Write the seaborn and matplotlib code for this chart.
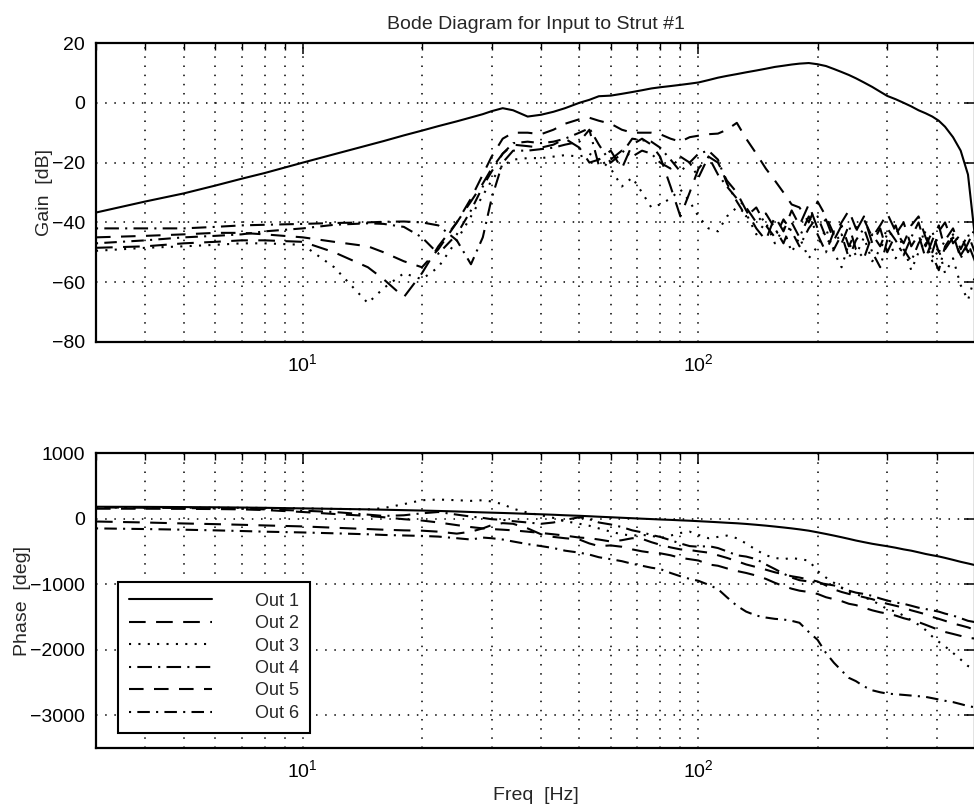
# Bode diagram for input to strut #1 - gain and phase of six outputs

import numpy as np
import pandas as pd
import matplotlib
matplotlib.use('Agg')
import matplotlib.pyplot as plt
from matplotlib.lines import Line2D
from matplotlib.ticker import FixedLocator, NullFormatter
import seaborn as sns

sns.set_style('white')
plt.rcParams['font.family'] = ['Liberation Sans', 'DejaVu Sans']
plt.rcParams['mathtext.fontset'] = 'custom'
plt.rcParams['mathtext.rm'] = 'Liberation Sans'
plt.rcParams['mathtext.it'] = 'Liberation Sans'

# frequency grid [Hz]
freq_hz = [3, 4, 5, 6, 7, 8, 10, 12, 14.6, 16, 18, 20, 22, 24.5, 26.6, 28.5, 30, 32, 34, 37,
           40, 43, 46, 50, 53, 56, 60, 64, 68, 72, 76, 80, 85, 90, 95, 100, 106, 112, 118, 125,
           132, 140, 148, 156, 164, 172, 180, 190, 200, 210, 220, 230, 240, 250, 262, 275, 288, 300, 315, 330,
           345, 360, 375, 390, 405, 420, 440, 460, 480, 500]

# gain [dB]
gain_out1 = [-36.7, -33, -30.3, -27.7, -25.4, -23.5, -20, -17.2, -14.2, -12.8, -10.9, -9.3, -7.8, -6.2, -4.9, -3.8, -2.8, -1.8, -2.5, -4.6,
             -4, -3, -1.8, 0, 1, 2.2, 2.4, 3, 3.6, 4.2, 4.8, 5.2, 5.6, 6, 6.4, 6.8, 7.6, 8.4, 9, 9.6,
             10.2, 10.8, 11.4, 12, 12.4, 12.8, 13.1, 13.3, 12.9, 12.3, 11.3, 10.3, 9.3, 8.2, 6.8, 5.3, 3.7, 2.3, 1.2, 0,
             -1.2, -2.5, -3.5, -4.6, -6, -8, -11.5, -16, -24, -45]
gain_out2 = [-48.5, -48, -47, -46.5, -46, -46, -46.5, -50, -55, -59, -65, -57, -48, -40, -33, -27, -22, -17, -14, -14.5,
             -15, -14, -12, -15, -20, -19, -16, -22, -14, -12, -14, -18, -28, -38, -30, -22, -18, -20, -26, -30,
             -36, -42, -46, -38, -43, -36, -41, -34, -42, -39, -46, -41, -48, -43, -38, -47, -42, -50, -44, -40,
             -48, -44, -52, -46, -41, -49, -45, -51, -47, -53]
gain_out3 = [-49.5, -48.5, -48, -47.5, -47, -47, -47.5, -55, -67, -62, -57, -59, -55, -46, -38, -31, -26, -21, -19, -18.5,
             -18.5, -18, -17.5, -18, -17, -19, -22, -28, -25, -30, -35, -34, -32, -29, -33, -38, -42, -43, -38, -35,
             -37, -44, -40, -47, -42, -50, -45, -52, -48, -42, -50, -55, -47, -51, -45, -53, -49, -44, -52, -48,
             -56, -50, -46, -53, -49, -57, -52, -61, -66, -58]
gain_out4 = [-42, -42, -42, -41.5, -41, -40.8, -40.5, -40.2, -40, -39.8, -39.7, -40, -41, -46, -54, -45, -32, -20, -16, -16,
             -15.5, -15, -14, -13, -9, -21, -19, -16, -18, -16, -17, -20, -22, -18, -20, -25, -18, -24, -28, -32,
             -35, -40, -37, -42, -47, -40, -45, -38, -44, -50, -43, -47, -41, -49, -52, -44, -48, -42, -46, -51,
             -45, -40, -48, -43, -50, -46, -42, -49, -44, -50]
gain_out5 = [-45, -44.5, -44, -43.5, -43.5, -44, -45, -46.5, -48, -50, -53, -55, -49, -40, -32, -24, -18, -12, -10, -10,
             -10.5, -9, -7, -5.5, -5, -6, -7, -9, -10, -10, -10, -10.5, -12, -13, -11.5, -11, -10.5, -10.3, -9, -6.7,
             -12, -17, -22, -26, -30, -34, -35, -40, -33, -38, -44, -40, -36, -42, -39, -45, -41, -37, -43, -47,
             -41, -38, -45, -50, -43, -40, -47, -44, -50, -46]
gain_out6 = [-47, -46, -45, -44.5, -44, -43, -42, -40.8, -40.3, -40.5, -41.5, -45, -50.5, -44, -36, -28, -23, -17, -13.5, -13,
             -13.5, -13, -12, -10, -8.5, -14, -20, -17, -12, -12.5, -13, -15, -19, -23, -20, -17, -16, -19, -27, -33,
             -38, -35, -41, -45, -39, -43, -48, -42, -38, -45, -49, -44, -52, -46, -42, -50, -55, -46, -41, -49,
             -53, -47, -43, -51, -56, -48, -44, -52, -47, -42]

# phase [deg]
phase_out1 = [180, 178, 175, 172, 168, 164, 155, 148, 140, 135, 128, 122, 116, 108, 100, 94, 90, 85, 80, 72,
              65, 58, 50, 42, 35, 28, 20, 12, 5, -2, -8, -14, -20, -27, -33, -40, -48, -56, -64, -72,
              -82, -95, -108, -122, -136, -150, -165, -185, -210, -235, -260, -285, -310, -335, -360, -385, -405, -422, -445, -470,
              -490, -515, -540, -560, -578, -600, -630, -660, -685, -710]
phase_out2 = [-45, -60, -75, -85, -95, -105, -120, -140, -160, -170, -180, -185, -200, -230, -200, -150, -100, -70, -80, -150,
              -240, -280, -300, -320, -380, -420, -410, -430, -470, -500, -520, -530, -560, -600, -620, -640, -700, -720, -760, -800,
              -830, -870, -920, -980, -1030, -1070, -1100, -1120, -1150, -1200, -1230, -1260, -1300, -1320, -1360, -1400, -1430, -1450, -1480, -1520,
              -1550, -1580, -1620, -1660, -1700, -1730, -1760, -1790, -1820, -1830]
phase_out3 = [170, 168, 166, 165, 164, 162, 155, 148, 140, 160, 220, 280, 290, 280, 270, 280, 260, 220, 150, 90,
              50, 10, -40, -80, -110, -150, -200, -240, -260, -250, -260, -300, -260, -220, -200, -250, -300, -280, -260, -300,
              -380, -480, -560, -600, -620, -600, -620, -640, -800, -900, -980, -1050, -1120, -1150, -1200, -1250, -1320, -1380, -1420, -1480,
              -1550, -1620, -1700, -1800, -1880, -1950, -2050, -2150, -2250, -2280]
phase_out4 = [170, 165, 160, 155, 150, 140, 120, 100, 60, 40, 50, 80, 100, 60, 30, 10, -10, -20, -40, -60,
              -80, -60, -20, 20, -10, -60, -90, -130, -180, -210, -250, -280, -330, -380, -420, -430, -420, -450, -500, -560,
              -580, -620, -700, -770, -840, -900, -940, -960, -980, -1000, -1020, -1060, -1100, -1130, -1150, -1180, -1220, -1250, -1280, -1300,
              -1330, -1360, -1380, -1400, -1420, -1450, -1480, -1520, -1560, -1580]
phase_out5 = [150, 150, 148, 145, 140, 130, 100, 70, 40, 20, -10, -30, -60, -100, -130, -150, -160, -170, -180, -200,
              -220, -240, -260, -290, -300, -320, -350, -330, -300, -310, -360, -400, -440, -470, -480, -500, -520, -560, -600, -650,
              -700, -740, -780, -820, -850, -880, -900, -930, -960, -1020, -1080, -1120, -1150, -1170, -1200, -1230, -1270, -1300, -1330, -1360,
              -1400, -1430, -1460, -1500, -1530, -1560, -1600, -1630, -1660, -1700]
phase_out6 = [-150, -160, -170, -180, -190, -200, -212, -225, -240, -250, -258, -265, -275, -300, -320, -290, -300, -320, -350, -390,
              -420, -450, -490, -520, -550, -590, -620, -650, -690, -720, -750, -770, -830, -880, -920, -950, -1010, -1076, -1200, -1330,
              -1420, -1480, -1510, -1530, -1540, -1560, -1590, -1730, -1850, -2050, -2200, -2320, -2430, -2480, -2560, -2620, -2650, -2670, -2680, -2690,
              -2700, -2710, -2720, -2740, -2760, -2780, -2800, -2830, -2860, -2880]

out_names = ['Out 1', 'Out 2', 'Out 3', 'Out 4', 'Out 5', 'Out 6']
gain_series = [gain_out1, gain_out2, gain_out3, gain_out4, gain_out5, gain_out6]
phase_series = [phase_out1, phase_out2, phase_out3, phase_out4, phase_out5, phase_out6]

# MATLAB-ish line styles (dash lengths in units of linewidth)
dash_map = {
    'Out 1': '',
    'Out 2': (8, 5),
    'Out 3': (1, 3.5),
    'Out 4': (1, 3, 7, 3),
    'Out 5': (7, 5),
    'Out 6': (1, 3, 6, 3),
}
LW = 1.5


def long_frame(series, value_name):
    """Stack the per-output arrays into one long-form table"""
    parts = []
    for name, vals in zip(out_names, series):
        parts.append(pd.DataFrame({'freq': freq_hz, value_name: vals, 'output': name}))
    return pd.concat(parts, ignore_index=True)


df_gain = long_frame(gain_series, 'gain')
df_phase = long_frame(phase_series, 'phase')

fig = plt.figure(figsize=(9.74, 8.07), dpi=100)
ax1 = fig.add_axes([96 / 974, 1 - 342 / 807, 879 / 974, 299 / 807])
ax2 = fig.add_axes([96 / 974, 1 - 748 / 807, 879 / 974, 295 / 807])

grid_style = dict(color='k', linestyle=(0, (1, 5)), linewidth=1.1)
minor_freqs = [3, 4, 5, 6, 7, 8, 9, 20, 30, 40, 50, 60, 70, 80, 90, 200, 300, 400]

for ax, df, col in [(ax1, df_gain, 'gain'), (ax2, df_phase, 'phase')]:
    ax.set_xscale('log')
    sns.lineplot(data=df, x='freq', y=col, style='output', dashes=dash_map,
                 color='k', linewidth=LW, estimator=None, legend=False, ax=ax)
    ax.set_xlim(3, 500)
    ax.xaxis.set_major_locator(FixedLocator([10, 100]))
    ax.set_xticklabels(['$10^1$', '$10^2$'])
    ax.xaxis.set_minor_locator(FixedLocator(minor_freqs))
    ax.xaxis.set_minor_formatter(NullFormatter())
    ax.grid(True, which='both', axis='x', **grid_style)
    ax.grid(True, which='major', axis='y', **grid_style)
    ax.tick_params(which='both', direction='in', top=True, right=True,
                   labelsize=14, colors='k', pad=8)
    ax.tick_params(which='major', length=8, width=1.1)
    ax.tick_params(which='minor', length=5, width=1.0)
    for sp in ax.spines.values():
        sp.set_linewidth(1.6)
        sp.set_color('k')
    ax.set_xlabel('')

ax1.set_ylim(-80, 20)
ax1.set_yticks([-80, -60, -40, -20, 0, 20])
ax1.set_ylabel('Gain  [dB]', fontsize=14, labelpad=-1)
ax1.set_title('Bode Diagram for Input to Strut #1', fontsize=14, pad=10)

ax2.set_ylim(-3500, 1000)
ax2.set_yticks([-3000, -2000, -1000, 0, 1000])
ax2.set_ylabel('Phase  [deg]', fontsize=14, labelpad=-1)
ax2.set_xlabel('Freq  [Hz]', fontsize=14, labelpad=4)

handles = []
for n in out_names:
    h = Line2D([0], [0], color='k', linewidth=LW)
    if dash_map[n]:
        h.set_dashes(dash_map[n])
    handles.append(h)
leg = ax2.legend(handles, out_names, loc='upper left', bbox_to_anchor=(0.025, 0.563),
                 borderaxespad=0, fontsize=13, handlelength=4.6, handletextpad=2.4,
                 labelspacing=0.3, borderpad=0.6, fancybox=False, framealpha=1,
                 edgecolor='k')
leg.get_frame().set_linewidth(1.5)

fig.savefig('out.png', dpi=100)
